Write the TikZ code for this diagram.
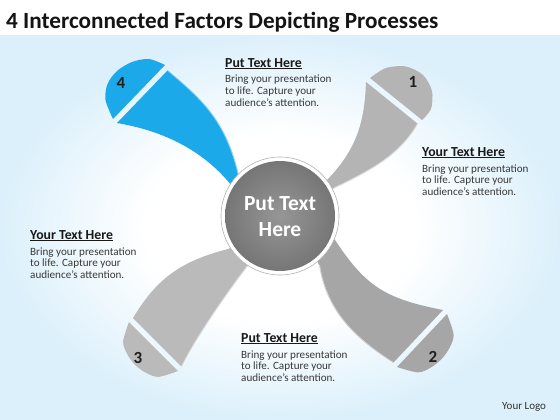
\documentclass[tikz,border=0pt]{standalone}
\usepackage{fontspec}
\setmainfont{Carlito}
\definecolor{bgblue}{RGB}{220,240,251}
\definecolor{bladeblue}{RGB}{27,169,234}
\definecolor{gA}{RGB}{180,180,180}
\definecolor{gB}{RGB}{166,166,166}
\definecolor{gC}{RGB}{186,186,186}
\definecolor{hubin}{RGB}{150,150,150}
\definecolor{hubout}{RGB}{118,118,118}
\pgfdeclareradialshading{bgshade}{\pgfpoint{0bp}{0bp}}{color(0bp)=(white); color(12bp)=(white); color(25bp)=(bgblue); color(50bp)=(bgblue)}
\newcommand\hul[1]{\setbox0\hbox{#1}\rlap{\rule[-1.8pt]{\wd0}{1.1pt}}\box0}
\newcommand\infoblock[4]{%
  \node[headtxt] (#1h) at (#2,#3) {\hul{#4}};
  \node[bodytxt] (#1a) at (#2,#3+16) {Bring your presentation};
  \node[bodytxt] (#1b) at (#2,#3+27.7) {to life. Capture your};
  \node[bodytxt] (#1c) at (#2,#3+39.4) {audience’s attention.};}
\begin{document}
\begin{tikzpicture}[x=1pt,y=-1pt,
  headtxt/.style={anchor=base west, inner sep=0pt, font=\fontsize{13.8}{15}\selectfont\bfseries, text=black!90},
  bodytxt/.style={anchor=base west, inner sep=0pt, font=\fontsize{11.1}{12}\selectfont, text=black!78},
  numtxt/.style={inner sep=0pt, font=\fontsize{17}{17}\selectfont\bfseries, text=black!88},
  hubtxt/.style={anchor=base, inner sep=0pt, font=\fontsize{21.5}{24}\selectfont\bfseries, text=white},
  hilite/.style={draw=white, draw opacity=0.5, line width=2pt}]
\useasboundingbox (0,0) rectangle (560,420);
\fill[white] (0,0) rectangle (560,420);
\shade[shading=bgshade] (0,36) rectangle (560,420);
\node[anchor=base west, inner sep=0pt, font=\fontsize{23.2}{26}\selectfont\bfseries, text=black!92] (title) at (6,29) {4 Interconnected Factors Depicting Processes};
% blade 4 (blue)
\fill[bladeblue] (246,205) -- (241,185) .. controls (229,121) and (202,99) .. (168,70) -- (117,123) .. controls (176,133) and (210,159) .. (232,186) -- (238,206) -- cycle;
\draw[hilite] (241,185) .. controls (229,121) and (202,99) .. (168,70);
\fill[bladeblue] plot[smooth] coordinates {(113,119) (105.5,100) (107.5,84) (117,71) (132,62) (149,59) (165,65)} -- cycle;
% blade 1
\fill[gA] (312,198) -- (325,182) .. controls (356.8,150.2) and (364.6,122) .. (366,82) -- (418,124) .. controls (400.5,154.5) and (373.5,169.6) .. (333,189) -- (320,203) -- cycle;
\draw[hilite] (418,124) .. controls (400.5,154.5) and (373.5,169.6) .. (333,189);
\fill[gA] plot[smooth] coordinates {(370,78) (386,68) (406,66.5) (423,75) (432,91) (431,109) (422,120)} -- cycle;
% blade 2
\fill[gB] (325,226) -- (335,240) .. controls (365.3,285.7) and (384.2,298.6) .. (443,310) -- (393,363) .. controls (359.4,341.4) and (326.5,314.5) .. (319,265) -- (312,248) -- cycle;
\draw[hilite] (393,363) .. controls (359.4,341.4) and (326.5,314.5) .. (319,265);
\fill[gB] plot[smooth] coordinates {(447,314) (453.6,334.6) (449.5,347.9) (441.6,359) (430.9,367.5) (418,372.4) (397,367)} -- cycle;
% blade 3
\fill[gC] (241,243) -- (228,249) .. controls (179.5,261.5) and (156.4,279.3) .. (133,318) -- (182,367) .. controls (194.9,340) and (226.7,293.7) .. (248,266) -- (256,256) -- cycle;
\draw[hilite] (182,367) .. controls (194.9,340) and (226.7,293.7) .. (248,266);
\fill[gC] plot[smooth] coordinates {(178,371) (158.5,376.9) (145.7,372.7) (135.1,364.9) (127.3,354.3) (123.1,341.5) (129,322)} -- cycle;
% numbers
\node[numtxt] (n4) at (121,83) {4};
\node[numtxt] (n1) at (413,82) {1};
\node[numtxt] (n2) at (433,357) {2};
\node[numtxt] (n3) at (138,358) {3};
% hub
\fill[white, draw=black!30, line width=0.6pt] (280,216) circle[radius=59];
\shade[inner color=hubin, outer color=hubout] (280,216) circle[radius=55];
\node[hubtxt] (hub1) at (280,210) {Put Text};
\node[hubtxt] (hub2) at (280,236) {Here};
% text blocks
\infoblock{tb}{225}{67}{Put Text Here}
\infoblock{rb}{422}{156}{Your Text Here}
\infoblock{lb}{30}{239}{Your Text Here}
\infoblock{bb}{241}{342}{Put Text Here}
\node[anchor=base west, inner sep=0pt, font=\fontsize{11}{12}\selectfont, text=black!80] (logo) at (502,409) {Your Logo};
\end{tikzpicture}
\end{document}
